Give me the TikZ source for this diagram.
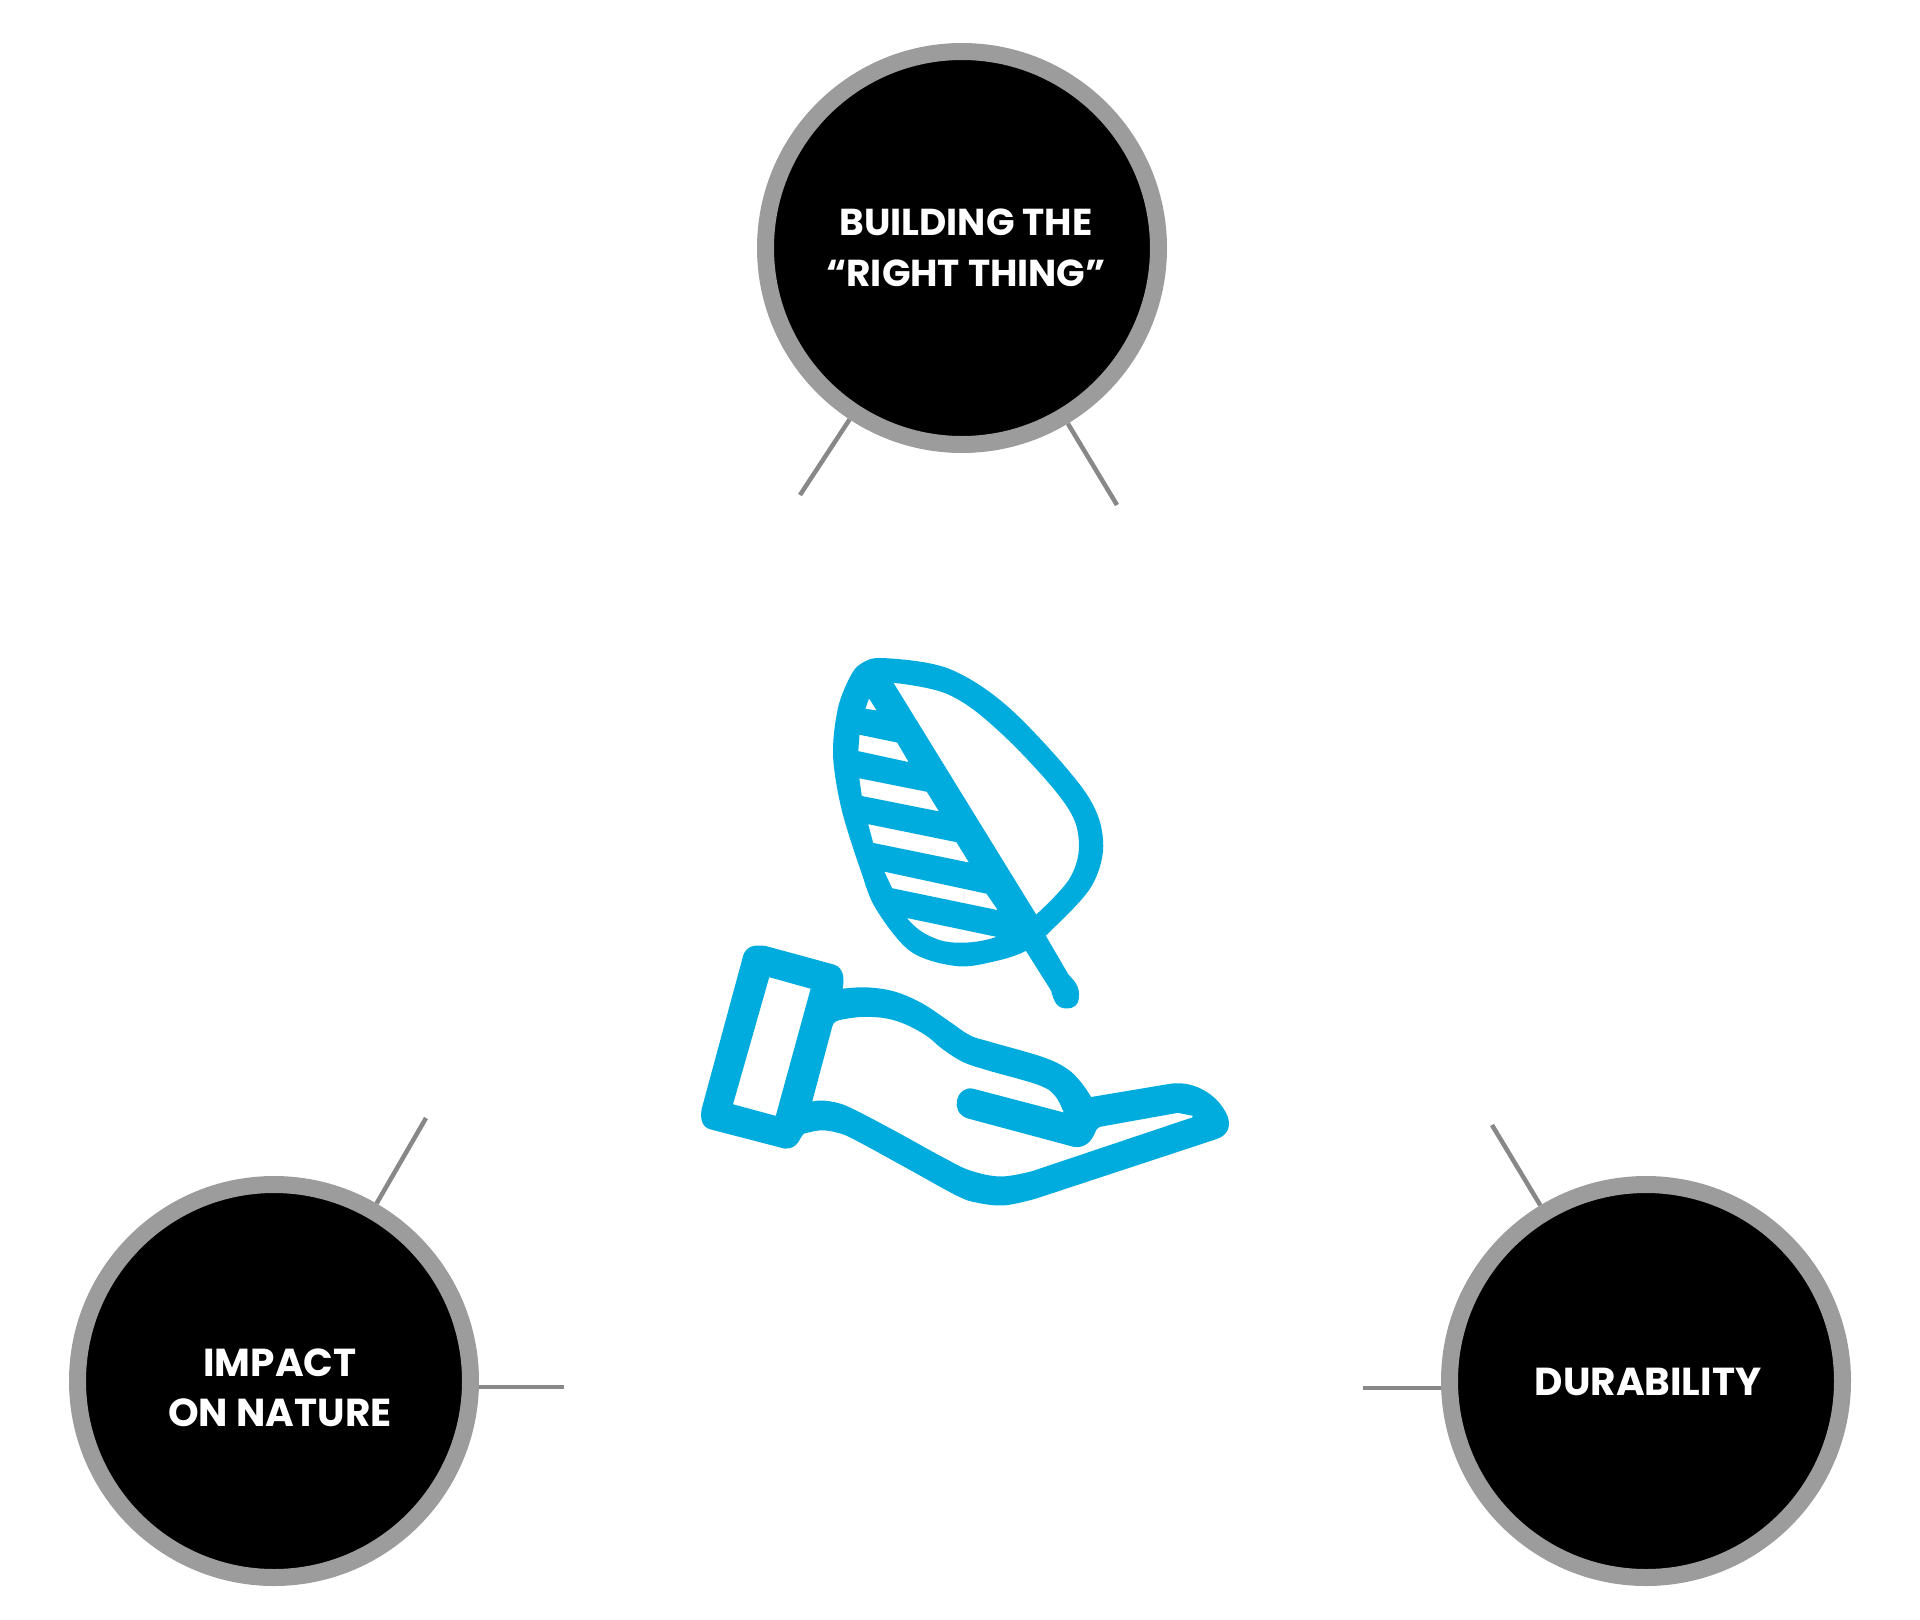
\documentclass[tikz,border=0pt]{standalone}
\usepackage{fontspec}
\setmainfont{Poppins}
\usetikzlibrary{backgrounds}
\definecolor{iconblue}{RGB}{0,172,222}
\definecolor{ringgrey}{RGB}{156,156,156}
\definecolor{linegrey}{RGB}{136,136,136}
\begin{document}
\begin{tikzpicture}[x=1pt,y=-1pt,
  topic/.style={circle, draw=ringgrey, line width=17pt, fill=black, minimum size=393pt,
    inner sep=0pt},
  topictext/.style={text=white, align=center, inner sep=0pt, font=\bfseries\fontsize{39}{50}\selectfont},
  spoke/.style={draw=linegrey, line width=4.5pt},
  leafgap/.style={fill=white, draw=iconblue, line width=4pt, line join=round},
  handgap/.style={fill=white, draw=iconblue, line width=3pt, line join=round}]
\useasboundingbox (0,0) rectangle (1920,1620);

\node[topic] (top) at (962,248) {};
\node[topic] (impact) at (274,1381) {};
\node[topic] (dur) at (1646,1381) {};
\node[topictext, font=\bfseries\fontsize{37.5}{51.5}\selectfont] (toptext) at ([shift={(4,0)}]top.center) {BUILDING THE\\“RIGHT THING”};
\node[topictext] (impacttext) at ([shift={(6,7)}]impact.center) {IMPACT\\ON NATURE};
\node[topictext] (durtext) at ([shift={(2,1)}]dur.center) {DURABILITY};

\coordinate (tl) at (800,495);
\coordinate (tr) at (1117,505);
\coordinate (il) at (426,1118);
\coordinate (ih) at (564,1387);
\coordinate (dl) at (1492,1125);
\coordinate (dh) at (1363,1388);

\begin{pgfonlayer}{background}
\draw[spoke] (tl) -- (top);
\draw[spoke] (tr) -- (top);
\draw[spoke] (il) -- (impact);
\draw[spoke] (ih) -- (ih -| impact.center);
\draw[spoke] (dl) -- (dur);
\draw[spoke] (dh) -- (dh -| dur.center);
\end{pgfonlayer}

% leaf
\begin{scope}[shift={(680,640)}, x=0.384615pt, y=-0.384615pt]
\fill[iconblue] plot[smooth cycle, tension=0.55] coordinates {
  (530,47) (700,75) (860,180) (1050,390) (1100,520) (1070,640) (960,760)
  (900,808) (820,835) (720,848) (600,810) (510,700) (470,600) (420,440)
  (398,300) (410,180) (440,100) (470,62)};
\fill[iconblue] (888,790) -- (943,755) -- (1010,870)
  .. controls (1030,890) and (1040,905) .. (1037,930)
  .. controls (1035,950) and (1025,958) .. (1003,958)
  .. controls (980,957) and (972,940) .. (965,912) -- cycle;
\filldraw[leafgap] plot[smooth, tension=0.6] coordinates {(545,105) (700,137) (840,240)
  (1000,415) (1042,520) (1018,622) (925,722)} -- cycle;
\filldraw[leafgap] (490,140) -- (522,190) -- (475,183) -- cycle;
\filldraw[leafgap] (462,240) -- (568,262) -- (605,325) -- (458,293) -- cycle;
\filldraw[leafgap] (460,353) -- (645,390) -- (684,453) -- (468,410) -- cycle;
\filldraw[leafgap] (482,472) -- (722,521) -- (762,586) -- (498,532) -- cycle;
\filldraw[leafgap] (522,595) -- (800,655) -- (838,710) -- (548,650) -- cycle;
\filldraw[leafgap] (578,715) -- (840,770) .. controls (790,795) and (700,800) .. (660,780)
  .. controls (620,765) and (595,740) .. (578,715) -- cycle;
\end{scope}

% hand
\begin{scope}[shift={(700,932)}, x=0.346140pt, y=-0.333333pt]
\fill[iconblue] (5,530) -- (125,70) .. controls (135,40) and (160,38) .. (190,42)
  -- (388,98) .. controls (415,108) and (418,140) .. (412,170)
  -- plot[smooth, tension=0.6] coordinates {(412,170) (480,166) (560,178) (640,213)
     (720,268) (780,310) (840,330) (990,375) (1060,410) (1100,450) (1130,495)}
  -- (1360,455) .. controls (1430,445) and (1500,490) .. (1525,555)
  .. controls (1535,590) and (1520,612) .. (1490,622)
  -- (970,800)
  -- plot[smooth, tension=0.6] coordinates {(970,800) (880,820) (800,812) (740,790)
     (600,710) (450,625) (400,603) (350,595) (300,605)}
  .. controls (285,620) and (285,650) .. (245,650)
  -- (30,592) .. controls (5,585) and (0,560) .. (5,530) -- cycle;
\filldraw[handgap] (197,130) -- (325,167) -- (222,557) -- (90,520) -- cycle;
\filldraw[handgap] (318,515) -- (378,282) .. controls (382,265) and (392,262) .. (410,258)
  -- plot[smooth, tension=0.6] coordinates {(410,258) (470,250) (540,255) (600,275)
     (660,310) (700,345) (760,385) (830,410) (980,455) (1030,490) (1058,548)}
  -- (790,475) .. controls (745,462) and (725,540) .. (775,555)
  -- (1080,640) .. controls (1110,645) and (1128,625) .. (1138,598)
  .. controls (1143,585) and (1150,580) .. (1165,578)
  -- (1380,538) -- (1430,548) -- (1425,560) -- (960,722)
  -- plot[smooth, tension=0.6] coordinates {(960,722) (870,738) (780,720) (700,680)
     (560,600) (450,540) (400,518) (350,510) (318,515)} -- cycle;
\end{scope}
\end{tikzpicture}
\end{document}
